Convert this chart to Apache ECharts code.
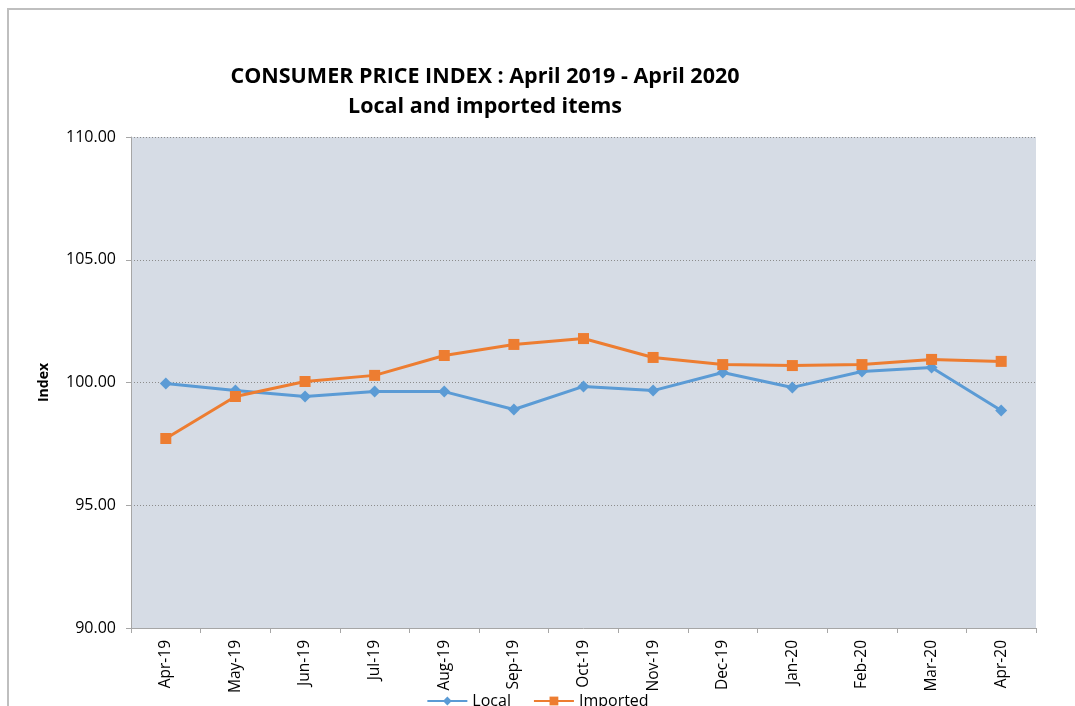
<!DOCTYPE html>
<html>
<head>
<meta charset="utf-8">
<script src="https://cdn.jsdelivr.net/npm/echarts@6/dist/echarts.min.js"></script>
<style>
  html, body { margin: 0; padding: 0; background: #fff; }
  #chart { width: 1075px; height: 706px; }
</style>
</head>
<body>
<div id="chart"></div>
<script>
const months = ['Apr-19', 'May-19', 'Jun-19', 'Jul-19', 'Aug-19', 'Sep-19', 'Oct-19',
  'Nov-19', 'Dec-19', 'Jan-20', 'Feb-20', 'Mar-20', 'Apr-20']
const localValues = [99.96, 99.67, 99.43, 99.63, 99.63, 98.90, 99.84, 99.67, 100.41, 99.80, 100.45, 100.61, 98.86]
const importedValues = [97.72, 99.43, 100.04, 100.29, 101.10, 101.55, 101.79, 101.02, 100.73, 100.69, 100.73, 100.94, 100.86]

const font = 'Open Sans, Liberation Sans, sans-serif'

const chart = echarts.init(document.getElementById('chart'))

chart.setOption({
  animation: false,
  textStyle: { fontFamily: font },
  title: {
    text: 'CONSUMER PRICE INDEX : April 2019 - April 2020\nLocal and imported items',
    left: 480,
    top: 57,
    textAlign: 'center',
    textStyle: { fontSize: 21.5, fontWeight: 'bold', color: '#000', lineHeight: 30, fontFamily: font }
  },
  graphic: [
    {
      type: 'rect',
      shape: { x: 8, y: 9, width: 1200, height: 800 },
      style: { fill: null, stroke: '#bfbfbf', lineWidth: 2 },
      silent: true
    }
  ],
  legend: {
    bottom: -8,
    left: 'center',
    itemWidth: 40,
    itemHeight: 11,
    itemGap: 22,
    textStyle: { fontSize: 16, color: '#000' },
    data: ['Local', 'Imported']
  },
  grid: { left: 131, right: 39, top: 137, bottom: 78, show: true, backgroundColor: '#d6dce5', borderWidth: 0 },
  xAxis: {
    type: 'category',
    data: months,
    boundaryGap: true,
    axisLine: { lineStyle: { color: '#a6a6a6', width: 1 } },
    axisTick: { show: true, length: 5, lineStyle: { color: '#a6a6a6' } },
    axisLabel: { rotate: 90, fontSize: 15.5, color: '#000', margin: 12 }
  },
  yAxis: {
    type: 'value',
    min: 90,
    max: 110,
    interval: 5,
    name: 'Index',
    nameLocation: 'middle',
    nameGap: 80,
    nameTextStyle: { fontSize: 14, fontWeight: 'bold', color: '#000' },
    axisLine: { show: true, lineStyle: { color: '#a6a6a6' } },
    axisTick: { show: true, length: 5, lineStyle: { color: '#a6a6a6' } },
    axisLabel: { fontSize: 16, color: '#000', margin: 15, formatter: v => v.toFixed(2) },
    splitLine: { show: true, lineStyle: { color: '#8c8c8c', type: [1, 2], width: 1 } }
  },
  series: [
    {
      name: 'Local',
      type: 'line',
      data: localValues,
      symbol: 'diamond',
      symbolSize: 12,
      color: '#5b9bd5',
      lineStyle: { width: 3 },
      itemStyle: { color: '#5b9bd5' }
    },
    {
      name: 'Imported',
      type: 'line',
      data: importedValues,
      symbol: 'rect',
      symbolSize: 11,
      color: '#ed7d31',
      lineStyle: { width: 3 },
      itemStyle: { color: '#ed7d31' }
    }
  ]
})
</script>
</body>
</html>
